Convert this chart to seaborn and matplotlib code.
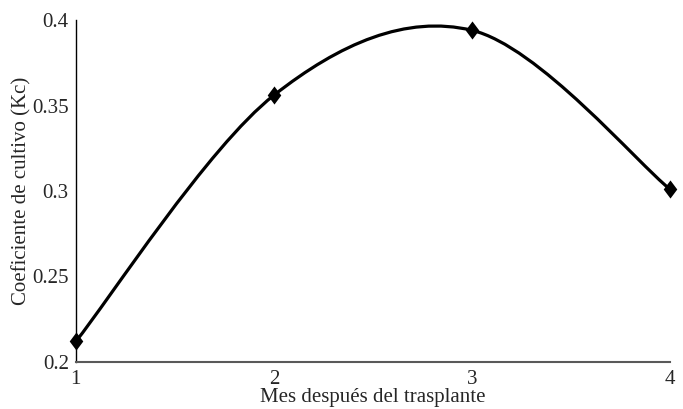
import numpy as np
import pandas as pd
import seaborn as sns
import matplotlib
matplotlib.use('Agg')
from matplotlib import pyplot as plt
from matplotlib.path import Path
from matplotlib.patches import PathPatch

mes = [1, 2, 3, 4]
kc = [0.212, 0.356, 0.394, 0.301]
y_ticks = [0.2, 0.25, 0.3, 0.35, 0.4]
y_tick_labels = ['0.2', '0.25', '0.3', '0.35', '0.4']

df = pd.DataFrame({'mes': mes, 'kc': kc})

sns.set_style('white')
plt.rcParams['font.family'] = ['Liberation Serif', 'DejaVu Serif']

fig = plt.figure(figsize=(6.83, 4.09), dpi=100)
ax = fig.add_axes([0.111, 0.115, 0.87, 0.836])

# smoothed line (excel style bezier between points)
pts = df[['mes', 'kc']].to_numpy(dtype=float)
verts = [pts[0]]
codes = [Path.MOVETO]
n = len(pts)
for i in range(n - 1):
    p0 = pts[i - 1] if i > 0 else pts[i]
    p1 = pts[i]
    p2 = pts[i + 1]
    p3 = pts[i + 2] if i + 2 < n else pts[i + 1]
    c1 = p1 + (p2 - p0) / 6
    c2 = p2 - (p3 - p1) / 6
    verts += [c1, c2, p2]
    codes += [Path.CURVE4] * 3
ax.add_patch(PathPatch(Path(verts, codes), facecolor='none',
                       edgecolor='black', lw=2.3, zorder=2,
                       capstyle='round', joinstyle='round'))

# taller than wide diamond, like the excel marker
diamond = [(0, -1), (0.75, 0), (0, 1), (-0.75, 0), (0, -1)]
sns.scatterplot(data=df, x='mes', y='kc', marker=diamond, s=170, color='black',
                edgecolor='black', linewidth=0, ax=ax, zorder=3, clip_on=False)

ax.set_xlim(1, 4)
ax.set_ylim(0.2, 0.4)
ax.set_xticks(mes)
ax.set_xticklabels([str(m) for m in mes], fontsize=15)
ax.set_yticks(y_ticks)
ax.set_yticklabels(y_tick_labels, fontsize=15)
ax.tick_params(axis='x', length=0, pad=6)
ax.tick_params(axis='y', length=0, pad=5)
ax.set_xlabel('Mes después del trasplante', fontsize=15, labelpad=-1)
ax.set_ylabel('Coeficiente de cultivo (Kc)', fontsize=15)
ax.yaxis.set_label_coords(-0.075, 0.5)

sns.despine(ax=ax)
ax.spines['left'].set_color('black')
ax.spines['left'].set_linewidth(1.0)
ax.spines['bottom'].set_color('#595959')
ax.spines['bottom'].set_linewidth(1.5)

fig.savefig('out.png', dpi=100)
